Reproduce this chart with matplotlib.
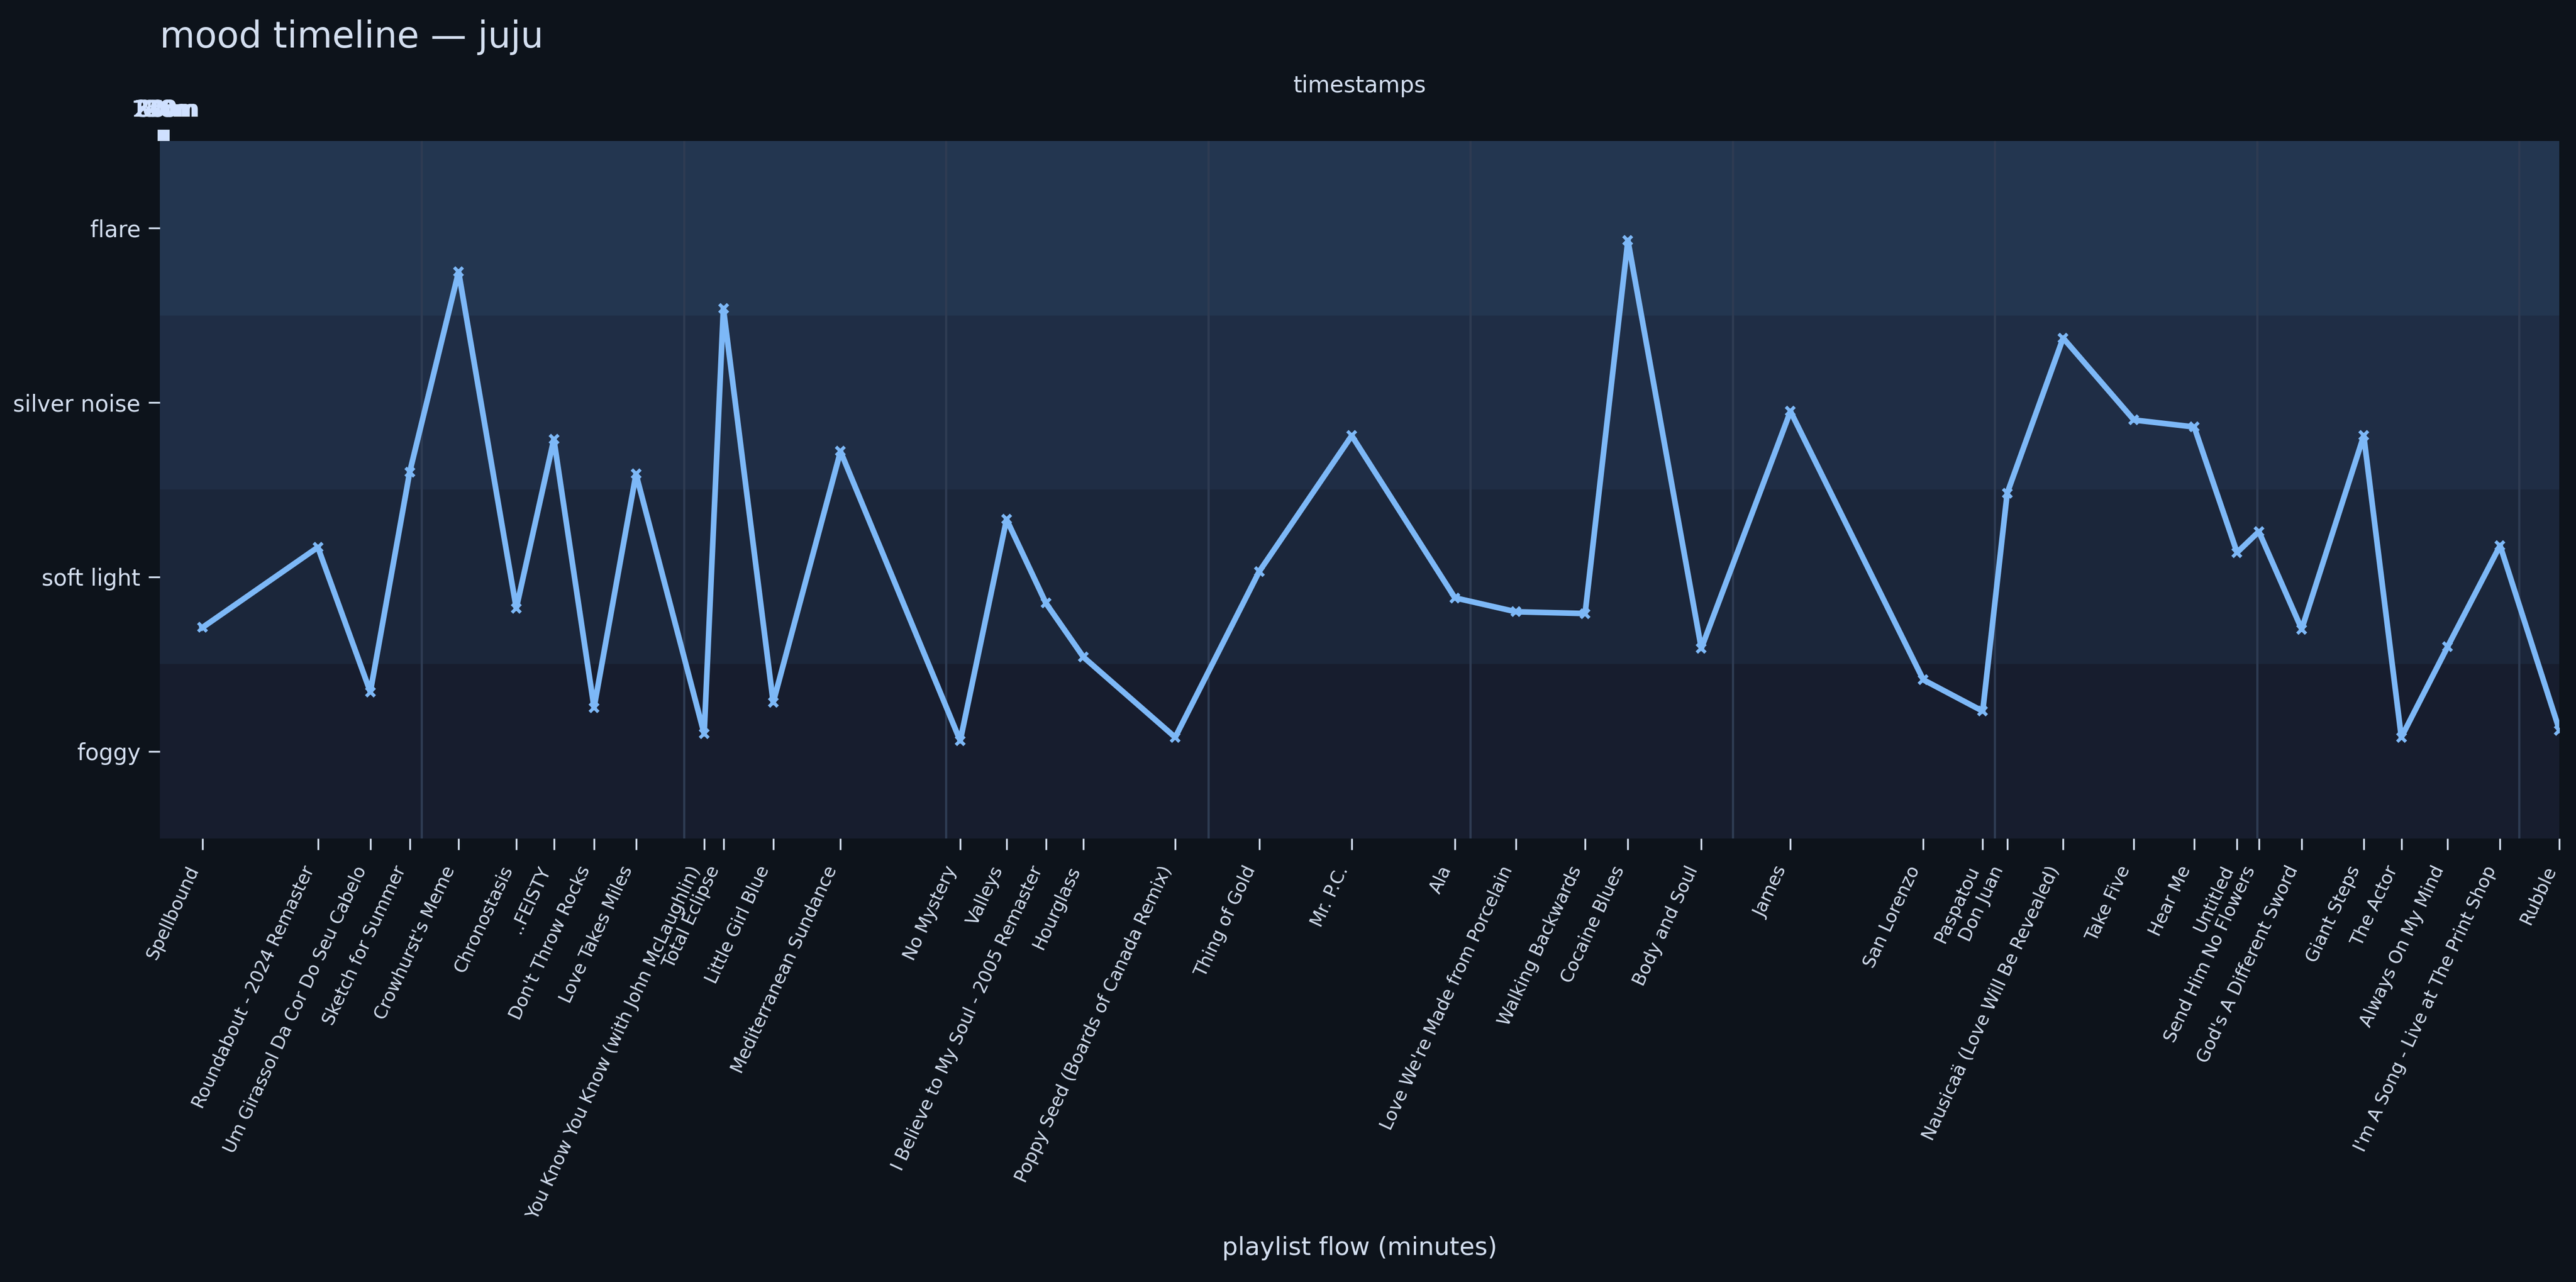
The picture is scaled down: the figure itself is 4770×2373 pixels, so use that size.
import matplotlib.pyplot as plt

tracks = ["Spellbound", "Roundabout - 2024 Remaster", "Um Girassol Da Cor Do Seu Cabelo",
          "Sketch for Summer", "Crowhurst's Meme", "Chronostasis", "..FEISTY", "Don't Throw Rocks",
          "Love Takes Miles", "You Know You Know (with John McLaughlin)", "Total Eclipse",
          "Little Girl Blue", "Mediterranean Sundance", "No Mystery", "Valleys",
          "I Believe to My Soul - 2005 Remaster", "Hourglass", "Poppy Seed (Boards of Canada Remix)",
          "Thing of Gold", "Mr. P.C.", "Ala", "Love We're Made from Porcelain", "Walking Backwards",
          "Cocaine Blues", "Body and Soul", "James", "San Lorenzo", "Paspatou", "Don Juan",
          "Nausicaä (Love Will Be Revealed)", "Take Five", "Hear Me", "Untitled",
          "Send Him No Flowers", "God's A Different Sword", "Giant Steps", "The Actor",
          "Always On My Mind", "I'm A Song - Live at The Print Shop", "Rubble"]
minutes = [4.9, 18.1, 24.1, 28.6, 34.2, 40.8, 45.1, 49.7, 54.5, 62.3, 64.5, 70.2, 77.9, 91.6,
           96.9, 101.4, 105.7, 116.2, 125.8, 136.4, 148.2, 155.2, 163.1, 168.0, 176.4, 186.6,
           201.8, 208.6, 211.4, 217.8, 225.9, 232.8, 237.7, 240.2, 245.1, 252.2, 256.5, 261.8,
           267.8, 274.6]
mood = [0.71, 1.17, 0.34, 1.60, 2.75, 0.82, 1.79, 0.25, 1.59, 0.10, 2.54, 0.28, 1.72, 0.06,
        1.33, 0.85, 0.54, 0.08, 1.03, 1.81, 0.88, 0.80, 0.79, 2.93, 0.59, 1.95, 0.41, 0.23,
        1.48, 2.37, 1.90, 1.86, 1.14, 1.26, 0.70, 1.81, 0.08, 0.60, 1.18, 0.12]
levels = ["foggy", "soft light", "silver noise", "flare"]
band_colors = ["#171d2e", "#1b263a", "#1f2d45", "#233650"]
stamps = list(range(0, 271, 30))

bg = "#0d131b"
fg = "#d4dff0"
fig = plt.figure(figsize=(15.9, 7.91), dpi=300, facecolor=bg)
ax = fig.add_axes([0.062, 0.346, 0.9316, 0.544])
ax.set_facecolor(bg)
for i, c in enumerate(band_colors):
    ax.axhspan(i - 0.5, i + 0.5, color=c, zorder=0, lw=0)
for m in range(30, 275, 30):
    ax.axvline(m, color="#2e3b52", lw=1, zorder=1)
ax.plot(minutes, mood, color="#7db8f7", lw=2.5, marker="x", ms=4, mew=1.5, zorder=3)
ax.set_xlim(0, 274.6)
ax.set_ylim(-0.5, 3.5)
ax.set_yticks(range(4))
ax.set_yticklabels(levels, color=fg, fontsize=10)
ax.set_xticks(minutes)
ax.set_xticklabels(tracks, rotation=65, ha="right", fontsize=8, color=fg)
ax.tick_params(colors=fg, length=5)
ax.tick_params(axis="x", pad=6)
for s in ax.spines.values():
    s.set_visible(False)
ax.set_xlabel("playlist flow (minutes)", color=fg, fontsize=11)
ax.xaxis.set_label_coords(0.5, -0.57)

ax2 = ax.twiny()
ax2.set_xlim(0, 274.6 * 300)
ax2.set_xticks(stamps)
ax2.set_xticklabels([f"{s}m" for s in stamps], color="#cfe0ff", fontsize=10)
ax2.tick_params(colors="#cfe0ff", length=5, width=2)
for s in ax2.spines.values():
    s.set_visible(False)
ax2.set_xlabel("timestamps", color=fg, fontsize=10, labelpad=2)
ax2.xaxis.set_label_coords(0.5, 1.07)

fig.text(0.062, 0.963, "mood timeline — juju", color=fg, fontsize=16)
fig.savefig("out.png", facecolor=bg)
